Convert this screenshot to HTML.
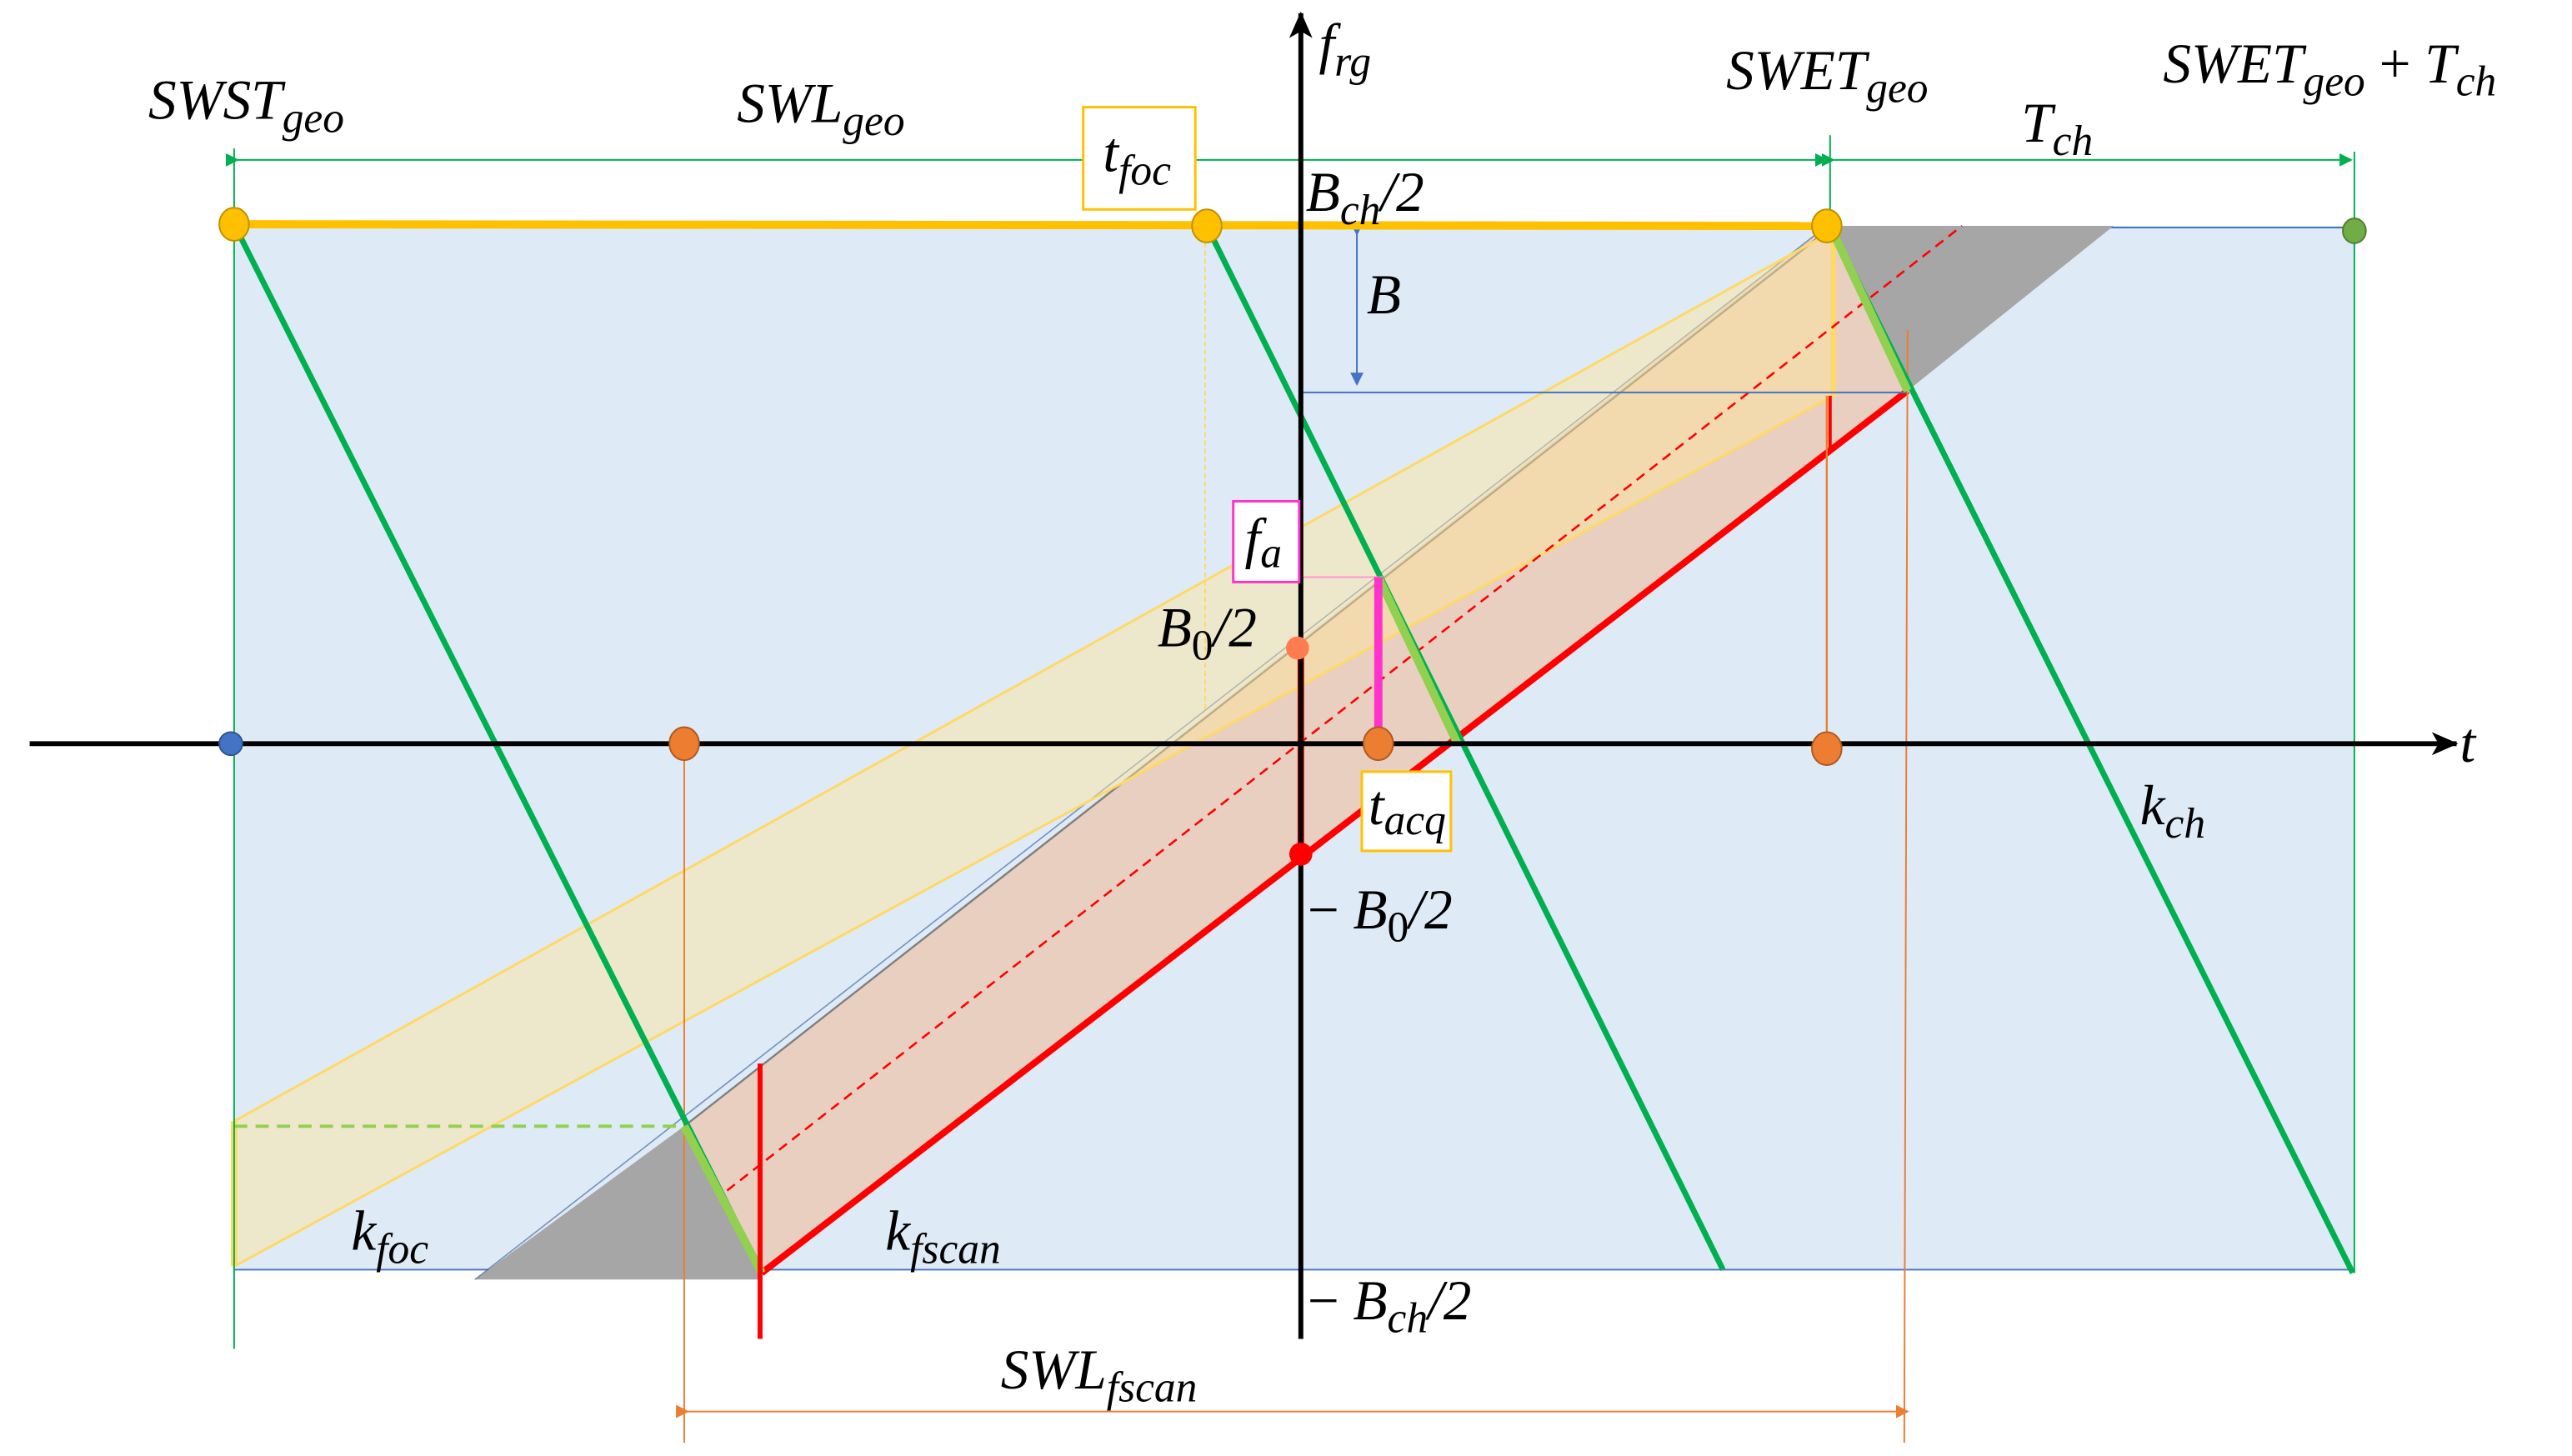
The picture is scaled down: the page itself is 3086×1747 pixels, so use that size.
<!DOCTYPE html>
<html><head><meta charset="utf-8"><style>
html,body{margin:0;padding:0;background:#fff;}
svg{display:block;}
text{font-family:"Liberation Serif",serif;font-style:italic;fill:#000;}
</style></head><body>
<svg width="3086" height="1747" viewBox="0 0 1560 883" preserveAspectRatio="none" xmlns="http://www.w3.org/2000/svg">
<defs>
<marker id="ag" markerWidth="8" markerHeight="8" refX="7" refY="4" orient="auto" markerUnits="userSpaceOnUse"><path d="M0,0 L8,4 L0,8 z" fill="#00b050"/></marker>
<marker id="ao" markerWidth="8" markerHeight="8" refX="7" refY="4" orient="auto" markerUnits="userSpaceOnUse"><path d="M0,0 L8,4 L0,8 z" fill="#ed7d31"/></marker>
<marker id="ab" markerWidth="8" markerHeight="8" refX="7" refY="4" orient="auto" markerUnits="userSpaceOnUse"><path d="M0,0 L8,4 L0,8 z" fill="#4472c4"/></marker>
<marker id="ak" markerWidth="16" markerHeight="14" refX="15" refY="7" orient="auto" markerUnits="userSpaceOnUse"><path d="M0,0 L16,7 L0,14 L4,7 z" fill="#000"/></marker>
</defs>
<rect x="142" y="137" width="1286" height="633" fill="#deeaf6"/>
<line x1="142" y1="770" x2="1428" y2="770" stroke="#4472c4" stroke-width="1"/>
<line x1="1108" y1="138" x2="1428" y2="138" stroke="#4472c4" stroke-width="1"/>
<polygon points="288,776 415,683 462,776" fill="#a6a6a6"/>
<polygon points="1108,137 1282,137 1157,237" fill="#a6a6a6"/>
<polygon points="415,683 1108,137 1157,237 462,772" fill="#e8cfc0"/>
<line x1="415" y1="683" x2="1108" y2="140" stroke="#7f7f7f" stroke-width="1.2"/>
<line x1="288" y1="776" x2="1108" y2="137" stroke="#2f5597" stroke-width="0.8" opacity="0.6"/>
<polygon points="142,680 1112,140 1112,240 142,768" fill="#ffe699" fill-opacity="0.45" stroke="#ffd966" stroke-width="1.5"/>
<line x1="142" y1="680" x2="142" y2="768" stroke="#ffd966" stroke-width="4"/>
<line x1="1112" y1="140" x2="1112" y2="240" stroke="#ffd966" stroke-width="3"/>
<line x1="441" y1="722" x2="1190" y2="137" stroke="#ff0000" stroke-width="1.3" stroke-dasharray="6,4"/>
<line x1="462" y1="772" x2="1157" y2="237" stroke="#ff0000" stroke-width="4"/>
<line x1="789" y1="238" x2="1157" y2="238" stroke="#4472c4" stroke-width="1"/>
<line x1="823" y1="142" x2="823" y2="233" stroke="#4472c4" stroke-width="1" marker-end="url(#ab)" marker-start="url(#ab)"/>
<line x1="142" y1="683" x2="415" y2="683" stroke="#92d050" stroke-width="2" stroke-dasharray="8,5"/>
<line x1="415" y1="451" x2="415" y2="875" stroke="#ed7d31" stroke-width="1"/>
<line x1="1108" y1="240" x2="1108" y2="451" stroke="#ed7d31" stroke-width="1.2"/>
<line x1="1157" y1="200" x2="1155" y2="875" stroke="#ed7d31" stroke-width="1"/>
<line x1="417" y1="856" x2="1157" y2="856" stroke="#ed7d31" stroke-width="1" marker-end="url(#ao)" marker-start="url(#ao)"/>
<line x1="731" y1="142" x2="731" y2="430" stroke="#ffd966" stroke-width="1" stroke-dasharray="3,2"/>
<line x1="142" y1="136" x2="462" y2="772" stroke="#00b050" stroke-width="3.5"/>
<line x1="732" y1="137" x2="1045" y2="770" stroke="#00b050" stroke-width="3.5"/>
<line x1="1110" y1="137" x2="1427" y2="772" stroke="#00b050" stroke-width="3.5"/>
<line x1="415" y1="683" x2="462" y2="772" stroke="#92d050" stroke-width="5"/>
<line x1="1110" y1="137" x2="1157" y2="237" stroke="#92d050" stroke-width="5"/>
<line x1="836" y1="350" x2="884" y2="451" stroke="#92d050" stroke-width="5"/>
<line x1="142" y1="90" x2="142" y2="818" stroke="#00b050" stroke-width="1"/>
<line x1="1428" y1="92" x2="1428" y2="772" stroke="#00b050" stroke-width="1"/>
<line x1="1110" y1="82" x2="1110" y2="140" stroke="#00b050" stroke-width="1"/>
<line x1="144" y1="97" x2="1108" y2="97" stroke="#00b050" stroke-width="1" marker-end="url(#ag)" marker-start="url(#ag)"/>
<line x1="1112" y1="97" x2="1426" y2="97" stroke="#00b050" stroke-width="1" marker-end="url(#ag)" marker-start="url(#ag)"/>
<line x1="142" y1="136" x2="1108" y2="137" stroke="#ffc000" stroke-width="5"/>
<line x1="461" y1="645" x2="461" y2="812" stroke="#ff0000" stroke-width="3"/>
<line x1="789" y1="393" x2="789" y2="518" stroke="#ff0000" stroke-width="4"/>
<line x1="1110" y1="240" x2="1110" y2="275" stroke="#ff0000" stroke-width="2"/>
<line x1="789" y1="350" x2="836" y2="350" stroke="#ff99cc" stroke-width="1"/>
<line x1="836" y1="350" x2="836" y2="451" stroke="#ff33cc" stroke-width="5"/>
<line x1="18" y1="451" x2="1490" y2="451" stroke="#000" stroke-width="3" marker-end="url(#ak)"/>
<line x1="789" y1="812" x2="789" y2="8" stroke="#000" stroke-width="3" marker-end="url(#ak)"/>
<ellipse cx="142" cy="136" rx="9" ry="10" fill="#ffc000" stroke="#bf9000"/>
<ellipse cx="732" cy="137" rx="9" ry="10" fill="#ffc000" stroke="#bf9000"/>
<ellipse cx="1108" cy="137" rx="9" ry="10" fill="#ffc000" stroke="#bf9000"/>
<ellipse cx="1428" cy="140" rx="7" ry="7.5" fill="#70ad47" stroke="#507e32"/>
<circle cx="140" cy="451" r="7" fill="#4472c4" stroke="#2f5597"/>
<ellipse cx="415" cy="451" rx="9" ry="10" fill="#ed7d31" stroke="#ae5a21"/>
<ellipse cx="836" cy="451" rx="9" ry="10" fill="#ed7d31" stroke="#ae5a21"/>
<ellipse cx="1108" cy="454" rx="9" ry="10" fill="#ed7d31" stroke="#ae5a21"/>
<circle cx="787" cy="393" r="7" fill="#ff7c50"/>
<circle cx="789" cy="518" r="7" fill="#ff0000"/>
<rect x="657" y="65" width="68" height="62" fill="#fff" stroke="#ffc000" stroke-width="1.5"/>
<rect x="748" y="304" width="40" height="49" fill="#fff" stroke="#ff33cc" stroke-width="1.5"/>
<rect x="826" y="468" width="54" height="48" fill="#fff" stroke="#ffc000" stroke-width="1.5"/>
<g font-size="34">
<text x="90" y="72">SWST<tspan font-size="26" dy="8">geo</tspan></text>
<text x="447" y="74">SWL<tspan font-size="26" dy="8">geo</tspan></text>
<text x="669" y="104">t<tspan font-size="26" dy="8">foc</tspan></text>
<text x="800" y="38">f<tspan font-size="26" dy="8">rg</tspan></text>
<text x="1047" y="54">SWET<tspan font-size="26" dy="8">geo</tspan></text>
<text x="1312" y="50">SWET<tspan font-size="26" dy="8">geo</tspan><tspan dy="-8" font-style="normal"> + </tspan>T<tspan font-size="26" dy="8">ch</tspan></text>
<text x="1226" y="86">T<tspan font-size="26" dy="8">ch</tspan></text>
<text x="792" y="128">B<tspan font-size="26" dy="8">ch</tspan><tspan dy="-8">/2</tspan></text>
<text x="829" y="190">B</text>
<text x="755" y="338">f<tspan font-size="26" dy="6">a</tspan></text>
<text x="702" y="392">B<tspan font-size="26" dy="8" font-style="normal">0</tspan><tspan dy="-8">/2</tspan></text>
<text x="1492" y="462">t</text>
<text x="830" y="500">t<tspan font-size="26" dy="6">acq</tspan></text>
<text x="1298" y="500">k<tspan font-size="26" dy="8">ch</tspan></text>
<text x="793" y="563"><tspan font-style="normal">−</tspan> B<tspan font-size="26" dy="8" font-style="normal">0</tspan><tspan dy="-8">/2</tspan></text>
<text x="213" y="758">k<tspan font-size="26" dy="8">foc</tspan></text>
<text x="537" y="758">k<tspan font-size="26" dy="8">fscan</tspan></text>
<text x="793" y="800"><tspan font-style="normal">−</tspan> B<tspan font-size="26" dy="8">ch</tspan><tspan dy="-8">/2</tspan></text>
<text x="607" y="842">SWL<tspan font-size="26" dy="8">fscan</tspan></text>
</g>
</svg>
</body></html>
